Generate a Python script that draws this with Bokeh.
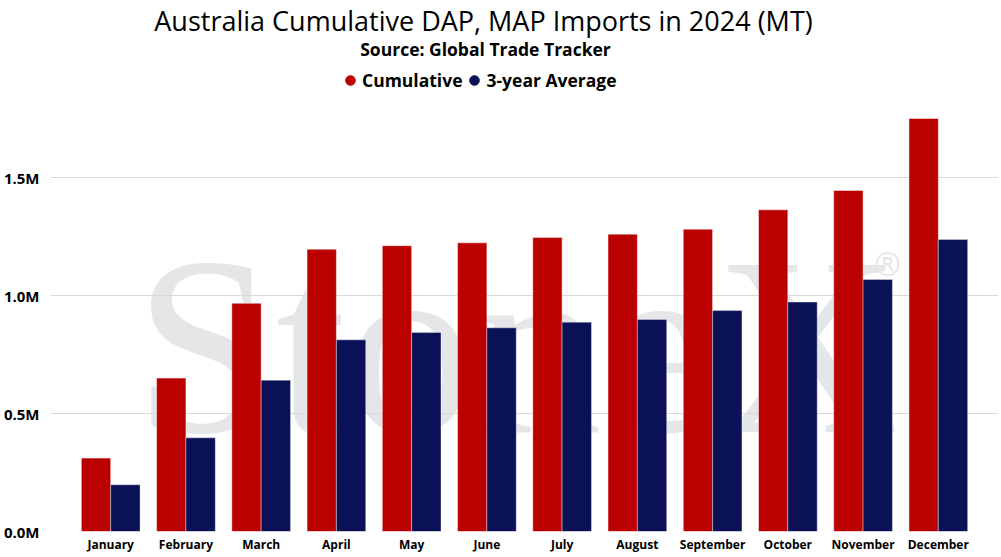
from bokeh.plotting import figure
from bokeh.models import (ColumnDataSource, FactorRange, Range1d, FixedTicker,
                          Label, Legend, LegendItem)
from bokeh.transform import dodge
from bokeh.embed import file_html
from bokeh.resources import INLINE

# Monthly cumulative DAP/MAP imports (metric tonnes)
months = ["January", "February", "March", "April", "May", "June", "July",
          "August", "September", "October", "November", "December"]
cumulative = [311000, 650000, 967000, 1196000, 1211000, 1223000, 1246000,
              1260000, 1281000, 1363000, 1445000, 1750000]
three_year_avg = [198000, 397000, 641000, 812000, 843000, 863000, 887000,
                  898000, 936000, 972000, 1068000, 1237000]

y_ticks = [0, 500000, 1000000, 1500000]
y_tick_labels = ["0.0M", "0.5M", "1.0M", "1.5M"]

RED = "#bb0000"
NAVY = "#0b1157"
FONT = "Open Sans"

src = ColumnDataSource(dict(month=months, cumulative=cumulative, avg=three_year_avg))

p = figure(width=1001, height=557,
           x_range=FactorRange(factors=months, range_padding=0.30,
                               range_padding_units="absolute"),
           y_range=Range1d(0, 2.25e6),
           output_backend="svg", toolbar_location=None,
           min_border_left=49, min_border_right=3,
           min_border_top=0, min_border_bottom=26)
p.outline_line_color = None
p.background_fill_color = "white"
p.border_fill_color = "white"

# Faint brand mark behind the bars
p.add_layout(Label(x=466, y=186, x_units="screen", y_units="screen",
                   text="StoneX", text_align="center", text_baseline="middle",
                   text_font="Liberation Serif", text_font_size="255px",
                   text_color="#e5e6e8", level="image"))
p.add_layout(Label(x=837, y=268, x_units="screen", y_units="screen",
                   text="®", text_align="center", text_baseline="middle",
                   text_font="Open Sans", text_font_size="32px",
                   text_color="#e5e6e8", level="image"))

p.vbar(x=dodge("month", -0.195, range=p.x_range), top="cumulative", width=0.39,
       source=src, fill_color=RED, line_color="white", line_alpha=0.45, line_width=1)
p.vbar(x=dodge("month", 0.195, range=p.x_range), top="avg", width=0.39,
       source=src, fill_color=NAVY, line_color="white", line_alpha=0.35, line_width=1)

# Axes
for ax in (p.xaxis, p.yaxis):
    ax.axis_line_color = None
    ax.major_tick_line_color = None
    ax.minor_tick_line_color = None
    ax.major_tick_out = 0
    ax.major_tick_in = 0
    ax.minor_tick_out = 0
    ax.major_label_text_font = FONT
    ax.major_label_text_font_style = "bold"
    ax.major_label_text_color = "#000000"

p.yaxis.ticker = FixedTicker(ticks=y_ticks)
p.yaxis.major_label_overrides = dict(zip(y_ticks, y_tick_labels))
p.yaxis.major_label_text_font_size = "15px"
p.yaxis.major_label_standoff = 11
p.xaxis.major_label_text_font_size = "12px"
p.xaxis.major_label_standoff = 4

p.xgrid.grid_line_color = None
p.ygrid.grid_line_color = "#d9d9d9"
p.ygrid.grid_line_width = 1

# Titles
p.add_layout(Label(x=433, y=511, x_units="screen", y_units="screen",
                   text="Australia Cumulative DAP, MAP Imports in 2024 (MT)",
                   text_align="center", text_baseline="middle",
                   text_font=FONT, text_font_size="27px", text_color="#000000"))
p.add_layout(Label(x=435, y=483, x_units="screen", y_units="screen",
                   text="Source: Global Trade Tracker",
                   text_align="center", text_baseline="middle",
                   text_font=FONT, text_font_size="17.5px", text_font_style="bold",
                   text_color="#000000"))

# Legend with round markers (their points sit below the visible range)
r_cum = p.scatter(x=["January"], y=[-1e6], marker="circle", size=11, color=RED)
r_avg = p.scatter(x=["January"], y=[-1e6], marker="circle", size=11, color=NAVY)
legend = Legend(items=[LegendItem(label="Cumulative", renderers=[r_cum]),
                       LegendItem(label="3-year Average", renderers=[r_avg])],
                orientation="horizontal", location=(288, 439),
                border_line_color=None, background_fill_alpha=0,
                padding=0, margin=0, spacing=-1,
                glyph_width=24, glyph_height=24, label_standoff=-4,
                label_height=24,
                label_text_font=FONT, label_text_font_size="17.5px",
                label_text_font_style="bold", label_text_color="#000000")
p.add_layout(legend)

open("out.html", "w").write(file_html(p, INLINE))
